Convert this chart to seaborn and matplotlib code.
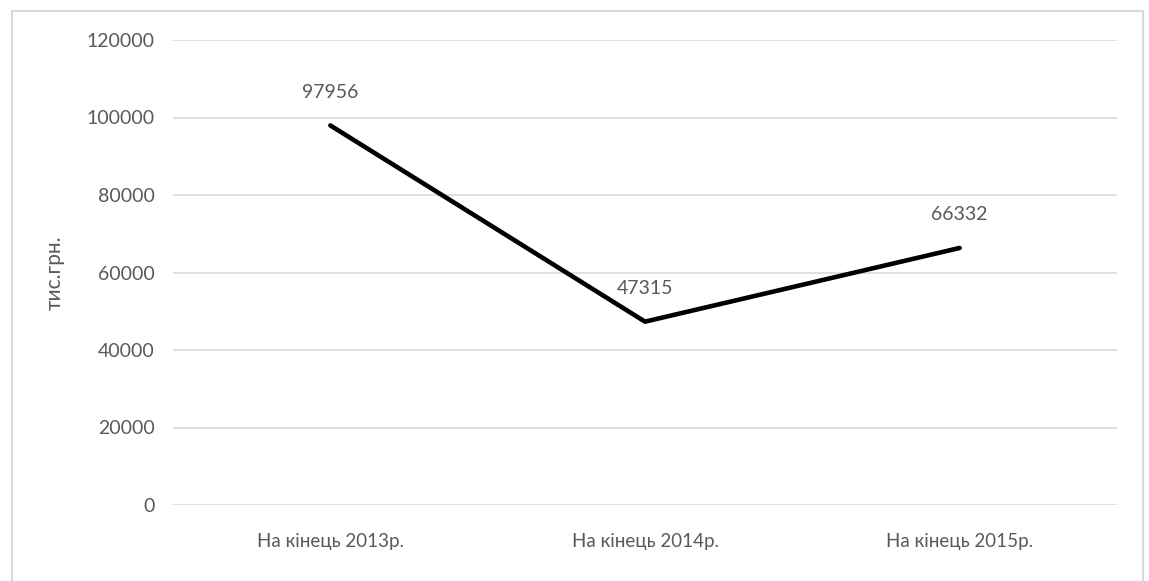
import matplotlib
matplotlib.use("Agg")
import matplotlib.pyplot as plt
from matplotlib.lines import Line2D
import seaborn as sns
import pandas as pd

categories = ["На кінець 2013р.", "На кінець 2014р.", "На кінець 2015р."]
values = [97956, 47315, 66332]
yticks = [0, 20000, 40000, 60000, 80000, 100000, 120000]
ylabel = "тис.грн."

sns.set_theme(style="white")
plt.rcParams["font.family"] = ["Lato", "DejaVu Sans"]

TXT = "#595959"
GRID = "#d9d9d9"

df = pd.DataFrame({"cat": categories, "val": values})

fig = plt.figure(figsize=(11.49, 5.81), dpi=100)
ax = fig.add_axes([173/1149, 1-505/581, (1117-173)/1149, (505-40)/581])

sns.lineplot(data=df, x="cat", y="val", ax=ax, color="black", linewidth=3.3,
             sort=False, zorder=3)

ax.set_xlim(-0.5, 2.5)
ax.set_ylim(0, 120000)
ax.set_yticks(yticks)
ax.set_yticklabels([str(v) for v in yticks])
ax.yaxis.grid(True, color=GRID, linewidth=1.2)
ax.xaxis.grid(False)
for s in ax.spines.values():
    s.set_visible(False)
ax.tick_params(axis="both", length=0, colors=TXT)
ax.tick_params(axis="y", pad=13, labelsize=14)
ax.tick_params(axis="x", pad=20, labelsize=13.5)
ax.set_xlabel("")
ax.set_ylabel(ylabel, fontsize=15, color=TXT, labelpad=16)

for i, v in enumerate(values):
    ax.annotate(str(v), (i, v), xytext=(0, 24), textcoords="offset points",
                ha="center", va="center", fontsize=14, color=TXT)

# outer chart frame (no bottom edge)
x0, x1 = 12/1149, 1143/1149
yt = 1 - 11/581
for xs, ys in [([x0, x0], [0, yt]), ([x0, x1], [yt, yt]), ([x1, x1], [yt, 0])]:
    fig.add_artist(Line2D(xs, ys, color=GRID, linewidth=1.5, transform=fig.transFigure))

fig.savefig("out.png", dpi=100, facecolor="white")
